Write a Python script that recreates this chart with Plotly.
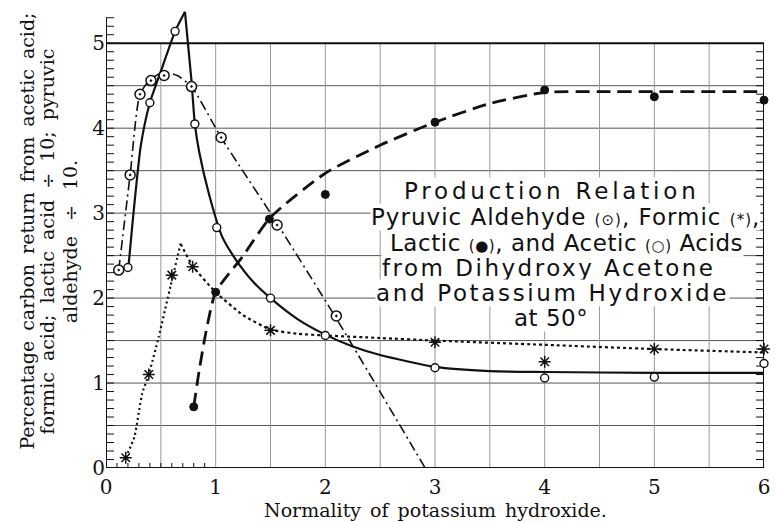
import numpy as np
import plotly.graph_objects as go

# ---------------- data ----------------
# Pyruvic aldehyde (circle with dot), dash-dot curve
pyr_x = [0.116, 0.22, 0.31, 0.41, 0.53, 0.78, 1.05, 1.56, 2.1]
pyr_y = [2.33, 3.45, 4.40, 4.56, 4.62, 4.49, 3.89, 2.86, 1.79]
pyr_curve_x = [0.116, 0.22, 0.31, 0.41, 0.53, 0.65, 0.78, 1.05, 1.5, 2.1, 2.91]
pyr_curve_y = [2.33, 3.45, 4.40, 4.58, 4.66, 4.62, 4.49, 3.89, 3.0, 1.76, 0.0]

# Acetic acid (open circle), solid curve
acetic_x = [0.20, 0.40, 0.63, 0.81, 1.01, 1.5, 2.0, 3.0, 4.0, 5.0, 6.0]
acetic_y = [2.36, 4.30, 5.14, 4.05, 2.83, 2.0, 1.56, 1.18, 1.06, 1.07, 1.23]
acetic_rise_x = [0.204, 0.243, 0.318, 0.40, 0.514, 0.63, 0.72]
acetic_rise_y = [2.36, 2.90, 3.80, 4.30, 4.72, 5.14, 5.37]
acetic_fall_x = [0.72, 0.78, 0.81, 0.85, 0.94, 1.06, 1.18, 1.35, 1.5, 1.75, 2.0,
                 2.25, 2.5, 3.0, 3.5, 4.0, 5.0, 6.0]
acetic_fall_y = [5.37, 4.55, 4.05, 3.72, 3.22, 2.72, 2.46, 2.18, 2.0, 1.75, 1.57,
                 1.43, 1.33, 1.19, 1.14, 1.13, 1.12, 1.12]

# Formic acid (asterisk), dotted curve
formic_x = [0.18, 0.39, 0.60, 0.79, 1.5, 3.0, 4.0, 5.0, 6.0]
formic_y = [0.12, 1.10, 2.27, 2.37, 1.62, 1.48, 1.25, 1.40, 1.40]
formic_rise_x = [0.18, 0.26, 0.33, 0.39, 0.48, 0.59, 0.68]
formic_rise_y = [0.12, 0.37, 0.88, 1.10, 1.54, 2.15, 2.64]
formic_fall_x = [0.68, 0.79, 1.0, 1.25, 1.5, 1.75, 2.0, 2.5, 3.0, 4.0, 5.0, 6.0]
formic_fall_y = [2.64, 2.38, 2.07, 1.80, 1.63, 1.58, 1.56, 1.53, 1.50, 1.45, 1.40, 1.36]

# Lactic acid (filled circle), long-dash curve
lactic_x = [0.8, 1.0, 1.49, 2.0, 3.0, 4.0, 5.0, 6.0]
lactic_y = [0.72, 2.07, 2.93, 3.22, 4.07, 4.45, 4.37, 4.33]
lactic_curve_x = [0.8, 0.85, 0.91, 1.0, 1.24, 1.5, 2.0, 2.5, 3.0, 3.5, 4.0, 4.5, 5.0, 6.0]
lactic_curve_y = [0.72, 1.15, 1.59, 2.07, 2.48, 2.95, 3.47, 3.80, 4.07, 4.29, 4.42, 4.43, 4.43, 4.43]

x_ticks = [0, 1, 2, 3, 4, 5, 6]
y_ticks = [0, 1, 2, 3, 4, 5]

SYM = "<span style='font-size:15px'>{}</span>"
title_lines = ["Production Relation",
               "Pyruvic Aldehyde " + SYM.format("(⊙)") + ", Formic " + SYM.format("(*)") + ",",
               "Lactic " + SYM.format("(●)") + ", and Acetic " + SYM.format("(○)") + " Acids",
               "from Dihydroxy Acetone",
               "and Potassium Hydroxide",
               "at 50°"]
ytitle_lines = ["Percentage carbon return from acetic acid;",
                "formic acid; lactic acid ÷ 10; pyruvic",
                "aldehyde ÷ 10."]
xtitle = "Normality of potassium hydroxide."

# ---------------- layout geometry ----------------
W, H = 775, 522
ML, MR, MT, MB = 106, 6, 5, 54
PW, PH = W - ML - MR, H - MT - MB
XR = [0, 6]
YR = [0, 5.45]


def px_x(p):
    return (p - ML) / PW


def px_y(p):
    return (H - MB - p) / PH


fig = go.Figure()

BLACK = "#111"
SERIF = "DejaVu Serif"
SANS = "DejaVu Sans"

# curves
fig.add_trace(go.Scatter(x=pyr_curve_x, y=pyr_curve_y, mode="lines",
                         line=dict(color=BLACK, width=1.6, dash="10px,4px,2px,4px", shape="spline", smoothing=0.6),
                         hoverinfo="skip", showlegend=False))
fig.add_trace(go.Scatter(x=acetic_rise_x, y=acetic_rise_y, mode="lines",
                         line=dict(color=BLACK, width=2.2, shape="spline", smoothing=0.6),
                         hoverinfo="skip", showlegend=False))
fig.add_trace(go.Scatter(x=acetic_fall_x, y=acetic_fall_y, mode="lines",
                         line=dict(color=BLACK, width=2.2, shape="spline", smoothing=0.6),
                         hoverinfo="skip", showlegend=False))
fig.add_trace(go.Scatter(x=formic_rise_x, y=formic_rise_y, mode="lines",
                         line=dict(color=BLACK, width=2.2, dash="2px,3px", shape="spline", smoothing=0.4),
                         hoverinfo="skip", showlegend=False))
fig.add_trace(go.Scatter(x=formic_fall_x, y=formic_fall_y, mode="lines",
                         line=dict(color=BLACK, width=2.2, dash="3px,3px", shape="spline", smoothing=0.6),
                         hoverinfo="skip", showlegend=False))
fig.add_trace(go.Scatter(x=lactic_curve_x, y=lactic_curve_y, mode="lines",
                         line=dict(color=BLACK, width=2.8, dash="14px,7px", shape="spline", smoothing=0.6),
                         hoverinfo="skip", showlegend=False))

# markers
fig.add_trace(go.Scatter(x=pyr_x, y=pyr_y, mode="markers", cliponaxis=False, name="Pyruvic aldehyde",
                         marker=dict(symbol="circle-dot", size=10, color="white", line=dict(color=BLACK, width=1.5)),
                         showlegend=False))
fig.add_trace(go.Scatter(x=acetic_x, y=acetic_y, mode="markers", cliponaxis=False, name="Acetic",
                         marker=dict(symbol="circle", size=8, color="white", line=dict(color=BLACK, width=1.4)),
                         showlegend=False))
fig.add_trace(go.Scatter(x=formic_x, y=formic_y, mode="markers", cliponaxis=False, name="Formic",
                         marker=dict(symbol="asterisk-open", size=10, color=BLACK, line=dict(color=BLACK, width=1.5)),
                         showlegend=False))
fig.add_trace(go.Scatter(x=lactic_x, y=lactic_y, mode="markers", cliponaxis=False, name="Lactic",
                         marker=dict(symbol="circle", size=8, color=BLACK, line=dict(color=BLACK, width=1)),
                         showlegend=False))

shapes = []
# horizontal grid
for yv in np.arange(0.5, 5.0, 0.5):
    shapes.append(dict(type="line", xref="x", yref="y", x0=0, x1=6, y0=yv, y1=yv,
                       line=dict(color="#555", width=1), layer="below"))
# vertical grid
for xv in np.arange(0.5, 6.0, 0.5):
    shapes.append(dict(type="line", xref="x", yref="y", x0=xv, x1=xv, y0=0, y1=5,
                       line=dict(color="#999", width=1), layer="below"))
# frame
shapes.append(dict(type="line", xref="x", yref="y", x0=0, x1=6, y0=5, y1=5, line=dict(color=BLACK, width=2), layer="below"))
shapes.append(dict(type="line", xref="x", yref="y", x0=0, x1=6, y0=0, y1=0, line=dict(color=BLACK, width=2), layer="below"))
shapes.append(dict(type="line", xref="x", yref="y", x0=0, x1=0, y0=0, y1=5.3, line=dict(color=BLACK, width=2), layer="below"))
shapes.append(dict(type="line", xref="x", yref="y", x0=6, x1=6, y0=0, y1=5, line=dict(color=BLACK, width=2), layer="below"))
# minor ticks left
for yv in np.arange(0.1, 5.35, 0.1):
    shapes.append(dict(type="line", xref="x", yref="y", xsizemode="pixel", xanchor=0, x0=0, x1=8,
                       y0=yv, y1=yv, line=dict(color=BLACK, width=1), layer="below"))
# minor ticks right
for yv in np.arange(0.1, 5.0, 0.1):
    shapes.append(dict(type="line", xref="x", yref="y", xsizemode="pixel", xanchor=6, x0=-8, x1=0,
                       y0=yv, y1=yv, line=dict(color=BLACK, width=1), layer="below"))
# minor ticks bottom (0-1)
for xv in np.arange(0.1, 1.0, 0.1):
    shapes.append(dict(type="line", xref="x", yref="y", ysizemode="pixel", yanchor=0, y0=0, y1=5,
                       x0=xv, x1=xv, line=dict(color=BLACK, width=1), layer="below"))

annotations = []
# text block: (center x px, center y px, letter spacing px)
txt_pos = [(555, 191, 3.8), (569, 217, 1.0), (570, 243, 0.55),
           (552, 268, 2.5), (556, 293, 2.65), (554, 318, 0.5)]
for line, (cx, cy, ls) in zip(title_lines, txt_pos):
    annotations.append(dict(text="<span style='letter-spacing:%.2fpx'>%s</span>" % (ls, line),
                            xref="paper", yref="paper", x=px_x(cx), y=px_y(cy),
                            xanchor="center", yanchor="middle", showarrow=False, bgcolor="white", borderpad=0,
                            font=dict(family=SANS, size=23, color=BLACK)))
# y title: (center x px, center y px, word spacing px)
for line, (cx, cy, ws) in zip(ytitle_lines, [(26, 231, 4), (47, 241, 5), (70, 242, 9)]):
    annotations.append(dict(text="<span style='word-spacing:%dpx'>%s</span>" % (ws, line),
                            xref="paper", yref="paper", x=px_x(cx), y=px_y(cy),
                            xanchor="center", yanchor="middle", textangle=-90, showarrow=False,
                            font=dict(family=SERIF, size=19, color=BLACK)))
# x title
annotations.append(dict(text="<span style='word-spacing:3px'>%s</span>" % xtitle,
                        xref="paper", yref="paper", x=px_x(438), y=px_y(510),
                        xanchor="center", yanchor="middle", showarrow=False,
                        font=dict(family=SERIF, size=19, color=BLACK)))

fig.update_layout(
    width=W, height=H, margin=dict(l=ML, r=MR, t=MT, b=MB),
    paper_bgcolor="white", plot_bgcolor="white",
    shapes=shapes, annotations=annotations, showlegend=False,
    xaxis=dict(range=XR, tickvals=x_ticks, ticktext=[str(v) for v in x_ticks], showgrid=False, zeroline=False,
               showline=False, ticks="", ticklabelstandoff=5, ticklabeloverflow="allow",
               tickfont=dict(family=SERIF, size=20, color=BLACK)),
    yaxis=dict(range=YR, tickvals=y_ticks, ticktext=[str(v) for v in y_ticks], showgrid=False, zeroline=False,
               showline=False, ticks="", ticklabelstandoff=0, tickfont=dict(family=SERIF, size=20, color=BLACK)),
)

fig.write_html("out.html", config={"displayModeBar": False},
               post_script="document.body.style.margin='0px';")
